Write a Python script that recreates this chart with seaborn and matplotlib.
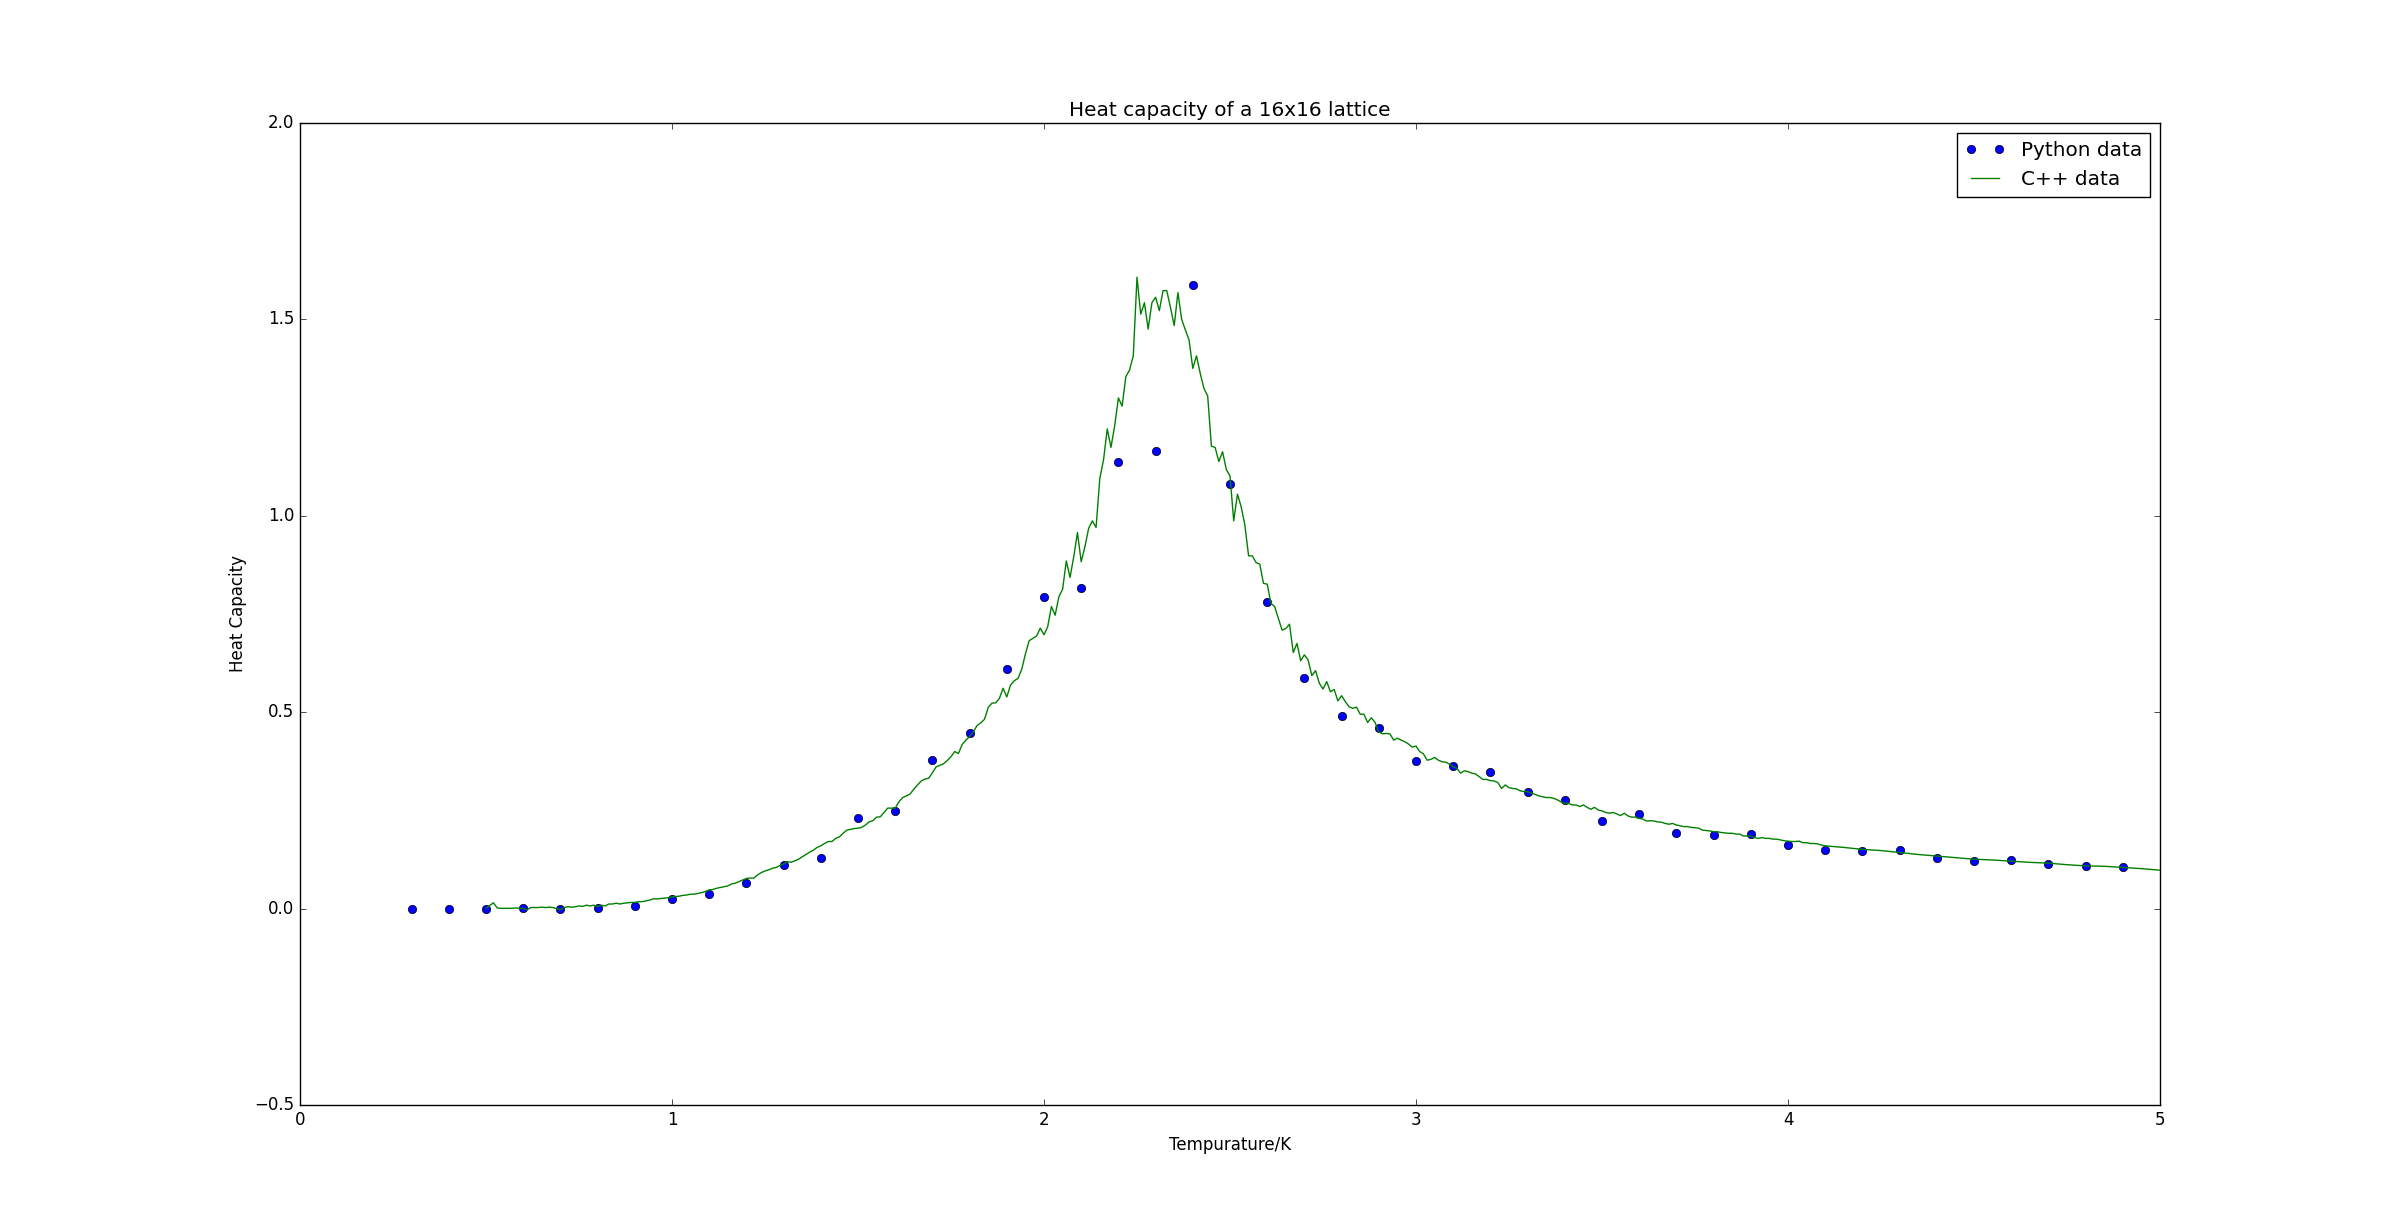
import numpy as np
import matplotlib
matplotlib.use("Agg")
import matplotlib.pyplot as plt
from matplotlib.lines import Line2D
import seaborn as sns

# ================= DATA =================
# Python run: one point every 0.1 K
py_temp = [0.3, 0.4, 0.5, 0.6, 0.7, 0.8, 0.9, 1.0, 1.1, 1.2,
           1.3, 1.4, 1.5, 1.6, 1.7, 1.8, 1.9, 2.0, 2.1, 2.2,
           2.3, 2.4, 2.5, 2.6, 2.7, 2.8, 2.9, 3.0, 3.1, 3.2,
           3.3, 3.4, 3.5, 3.6, 3.7, 3.8, 3.9, 4.0, 4.1, 4.2,
           4.3, 4.4, 4.5, 4.6, 4.7, 4.8, 4.9]
py_heat = [0.000, 0.000, 0.000, 0.001, 0.000, 0.003, 0.008, 0.026, 0.037, 0.065,
           0.111, 0.128, 0.230, 0.249, 0.378, 0.446, 0.609, 0.792, 0.815, 1.138,
           1.164, 1.586, 1.081, 0.780, 0.586, 0.490, 0.459, 0.375, 0.362, 0.347,
           0.296, 0.277, 0.223, 0.241, 0.193, 0.187, 0.190, 0.161, 0.149, 0.147,
           0.149, 0.128, 0.121, 0.124, 0.114, 0.109, 0.105]

# C++ run: 0.01 K steps from 0.50 to 4.10, then 0.05 K steps to 5.00
cpp_temp_fine = np.round(np.arange(0.50, 4.105, 0.01), 2)
cpp_temp_tail = [4.15, 4.20, 4.25, 4.30, 4.35, 4.40, 4.45, 4.50, 4.55,
                 4.60, 4.65, 4.70, 4.75, 4.80, 4.85, 4.90, 4.95, 5.00]

cpp_heat_fine = [
    # 0.50 - 0.99
    0.001, 0.008, 0.015, 0.002, 0.001, 0.001, 0.001, 0.001, 0.002, 0.001,
    0.001, -0.003, 0.003, 0.003, 0.003, 0.004, 0.003, 0.004, 0.003, 0.000,
    -0.003, 0.003, 0.005, 0.004, 0.005, 0.007, 0.006, 0.009, 0.007, 0.009,
    0.005, 0.009, 0.007, 0.012, 0.012, 0.014, 0.012, 0.014, 0.015, 0.016,
    0.016, 0.018, 0.018, 0.020, 0.022, 0.025, 0.025, 0.026, 0.027, 0.028,
    # 1.00 - 1.49
    0.030, 0.031, 0.032, 0.034, 0.035, 0.037, 0.037, 0.039, 0.041, 0.044,
    0.048, 0.049, 0.052, 0.054, 0.056, 0.058, 0.063, 0.065, 0.069, 0.073,
    0.077, 0.078, 0.078, 0.086, 0.092, 0.096, 0.099, 0.103, 0.105, 0.110,
    0.114, 0.120, 0.118, 0.122, 0.126, 0.132, 0.138, 0.144, 0.149, 0.156,
    0.160, 0.166, 0.171, 0.171, 0.179, 0.183, 0.192, 0.200, 0.202, 0.204,
    # 1.50 - 1.99
    0.205, 0.207, 0.213, 0.221, 0.224, 0.233, 0.234, 0.245, 0.256, 0.256,
    0.256, 0.272, 0.283, 0.287, 0.292, 0.304, 0.315, 0.325, 0.330, 0.332,
    0.346, 0.361, 0.365, 0.369, 0.377, 0.387, 0.400, 0.395, 0.418, 0.429,
    0.438, 0.450, 0.466, 0.473, 0.482, 0.512, 0.523, 0.524, 0.535, 0.561,
    0.539, 0.569, 0.580, 0.586, 0.609, 0.648, 0.682, 0.688, 0.694, 0.714,
    # 2.00 - 2.49
    0.697, 0.718, 0.769, 0.747, 0.794, 0.813, 0.885, 0.843, 0.896, 0.957,
    0.883, 0.921, 0.968, 0.987, 0.970, 1.095, 1.142, 1.221, 1.174, 1.229,
    1.300, 1.279, 1.354, 1.371, 1.407, 1.607, 1.513, 1.542, 1.475, 1.542,
    1.556, 1.522, 1.573, 1.573, 1.530, 1.484, 1.568, 1.500, 1.473, 1.447,
    1.375, 1.407, 1.362, 1.324, 1.305, 1.177, 1.174, 1.138, 1.163, 1.118,
    # 2.50 - 2.99
    1.101, 0.987, 1.055, 1.023, 0.976, 0.898, 0.898, 0.881, 0.877, 0.828,
    0.826, 0.777, 0.769, 0.739, 0.709, 0.713, 0.724, 0.652, 0.675, 0.631,
    0.646, 0.633, 0.593, 0.606, 0.574, 0.559, 0.578, 0.552, 0.558, 0.529,
    0.542, 0.527, 0.514, 0.510, 0.513, 0.495, 0.495, 0.474, 0.486, 0.474,
    0.450, 0.445, 0.446, 0.445, 0.429, 0.434, 0.429, 0.425, 0.419, 0.411,
    # 3.00 - 3.49
    0.414, 0.400, 0.394, 0.378, 0.380, 0.385, 0.378, 0.374, 0.373, 0.368,
    0.361, 0.357, 0.345, 0.351, 0.349, 0.345, 0.343, 0.336, 0.329, 0.329,
    0.326, 0.325, 0.321, 0.306, 0.315, 0.308, 0.306, 0.305, 0.300, 0.298,
    0.298, 0.294, 0.291, 0.287, 0.285, 0.283, 0.283, 0.281, 0.277, 0.272,
    0.268, 0.268, 0.264, 0.264, 0.260, 0.264, 0.258, 0.253, 0.258, 0.251,
    # 3.50 - 3.99
    0.249, 0.245, 0.243, 0.245, 0.241, 0.237, 0.243, 0.236, 0.233, 0.233,
    0.230, 0.228, 0.223, 0.224, 0.223, 0.221, 0.220, 0.217, 0.215, 0.217,
    0.213, 0.211, 0.209, 0.209, 0.207, 0.206, 0.205, 0.200, 0.199, 0.198,
    0.196, 0.196, 0.194, 0.193, 0.192, 0.192, 0.190, 0.190, 0.185, 0.185,
    0.185, 0.181, 0.179, 0.181, 0.179, 0.179, 0.177, 0.177, 0.175, 0.173,
    # 4.00 - 4.10
    0.172, 0.171, 0.171, 0.172, 0.168, 0.168, 0.166, 0.166, 0.165, 0.162,
    0.160,
]
cpp_heat_tail = [0.156, 0.151, 0.148, 0.143, 0.138, 0.134, 0.130, 0.126, 0.124,
                 0.121, 0.118, 0.116, 0.112, 0.109, 0.108, 0.105, 0.102, 0.098]

cpp_temp = list(cpp_temp_fine) + cpp_temp_tail
cpp_heat = cpp_heat_fine + cpp_heat_tail


# ================= PLOT =================
plt.style.use("classic")

fig = plt.figure(figsize=(24, 12.28), dpi=100, facecolor="white")
ax = fig.add_subplot(111)

sns.scatterplot(x=py_temp, y=py_heat, ax=ax, color="b", s=36,
                edgecolor="k", linewidth=0.5, zorder=2)
sns.lineplot(x=cpp_temp, y=cpp_heat, ax=ax, color="g", linewidth=1.0,
             sort=False, estimator=None, zorder=3)

ax.set_xlim(0, 5)
ax.set_ylim(-0.5, 2.0)
ax.set_xlabel("Tempurature/K")
ax.set_ylabel("Heat Capacity")
ax.set_title("Heat capacity of a 16x16 lattice")

handles = [
    Line2D([], [], linestyle="", marker="o", color="b", markeredgecolor="k",
           markeredgewidth=0.5, markersize=6),
    Line2D([], [], color="g", linewidth=1.0),
]
ax.legend(handles, ["Python data", "C++ data"], loc="upper right", numpoints=2)

fig.savefig("out.png", dpi=100, facecolor="white")
